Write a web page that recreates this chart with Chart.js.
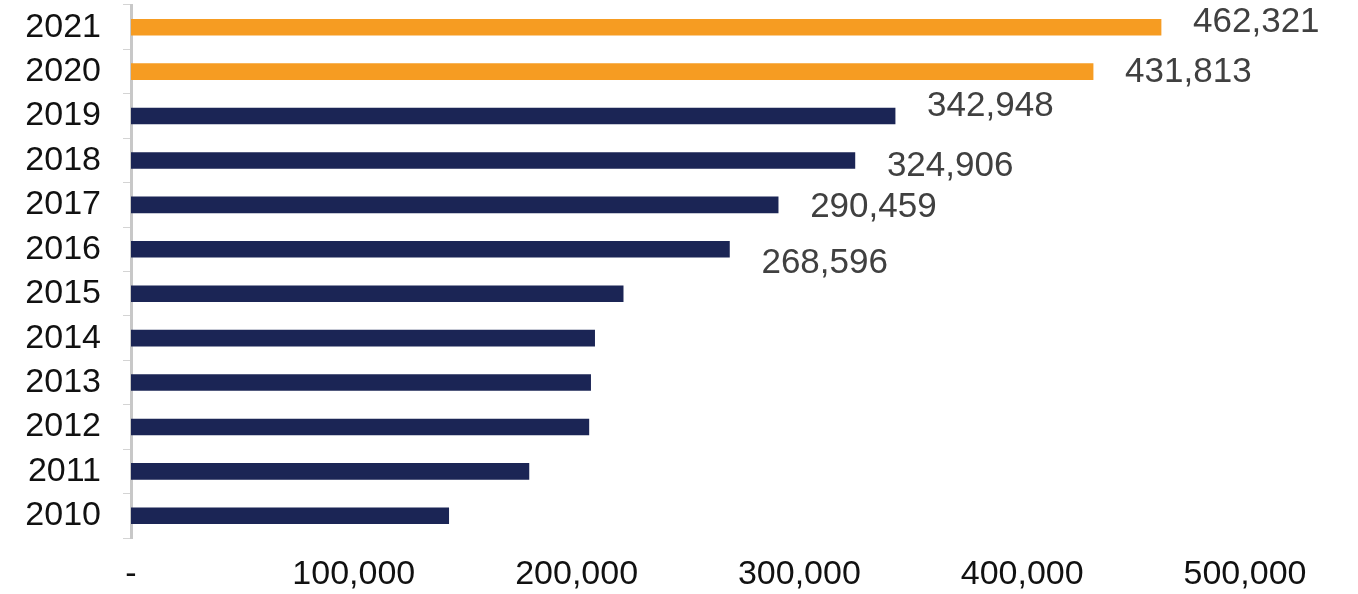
<!DOCTYPE html>
<html>
<head>
<meta charset="utf-8">
<script src="https://cdn.jsdelivr.net/npm/chart.js@4"></script>
<style>
  body { margin: 0; background: #ffffff; }
  canvas { display: block; }
</style>
</head>
<body>
<canvas id="graphAnnees" width="1358" height="594"></canvas>
<script>
// ===============================
//  Data (top to bottom as drawn)
// ===============================
const years = ["2021", "2020", "2019", "2018", "2017", "2016", "2015", "2014", "2013", "2012", "2011", "2010"];
const values = [462321, 431813, 342948, 324906, 290459, 268596, 220900, 208100, 206300, 205500, 178600, 142600];
const highlighted = ["2021", "2020"]; // orange bars
const labelledYears = ["2021", "2020", "2019", "2018", "2017", "2016"];
const xTicks = [0, 100000, 200000, 300000, 400000, 500000];

const orange = "#f69c22";
const navy = "#1b2555";

// little vertical nudges so the value labels sit like in the original
const labelNudge = { "2021": -5, "2020": 1, "2019": -10, "2018": 6, "2017": 2, "2016": 14 };

// draws the value text to the right of the labelled bars
const valueLabels = {
  id: "valueLabels",
  afterDatasetsDraw(chart) {
    const ctx = chart.ctx;
    const meta = chart.getDatasetMeta(0);
    ctx.save();
    ctx.font = "35px 'Liberation Sans', Arial, sans-serif";
    ctx.fillStyle = "#404040";
    ctx.textAlign = "left";
    ctx.textBaseline = "middle";
    meta.data.forEach((bar, i) => {
      const year = years[i];
      if (!labelledYears.includes(year)) return;
      const txt = values[i].toLocaleString("en-US");
      ctx.fillText(txt, bar.x + 32, bar.y + (labelNudge[year] || 0));
    });
    ctx.restore();
  },
};

document.addEventListener("DOMContentLoaded", function () {
  const ctx = document.getElementById("graphAnnees");
  new Chart(ctx, {
    type: "bar",
    data: {
      labels: years,
      datasets: [
        {
          data: values,
          backgroundColor: years.map((y) => (highlighted.includes(y) ? orange : navy)),
          barThickness: 16,
          borderWidth: 0,
        },
      ],
    },
    plugins: [valueLabels],
    options: {
      indexAxis: "y",
      responsive: false,
      animation: false,
      layout: { padding: { top: 5, right: 113, left: 0, bottom: 0 } },
      plugins: {
        legend: { display: false },
        tooltip: { enabled: false },
      },
      scales: {
        x: {
          min: 0,
          max: 500000,
          afterBuildTicks: (scale) => {
            scale.ticks = xTicks.map((v) => ({ value: v }));
          },
          afterFit: (scale) => {
            scale.height = 56;
          },
          grid: { display: false },
          border: { display: false },
          ticks: {
            padding: 8,
            color: "#111111",
            font: { family: "'Liberation Sans', Arial, sans-serif", size: 34 },
            callback: (v) => (v === 0 ? "-" : Number(v).toLocaleString("en-US")),
            maxRotation: 0,
          },
        },
        y: {
          afterFit: (scale) => {
            scale.width = 131;
            scale.paddingTop = 0;
            scale.paddingBottom = 0;
          },
          grid: {
            offset: true,
            drawOnChartArea: false,
            tickLength: 8,
            color: "#d4d4d4",
            lineWidth: 1,
          },
          border: { display: true, color: "#c8c8c8", width: 3 },
          ticks: {
            autoSkip: false,
            padding: 22,
            color: "#111111",
            font: { family: "'Liberation Sans', Arial, sans-serif", size: 34 },
          },
        },
      },
    },
  });
});
</script>
</body>
</html>
